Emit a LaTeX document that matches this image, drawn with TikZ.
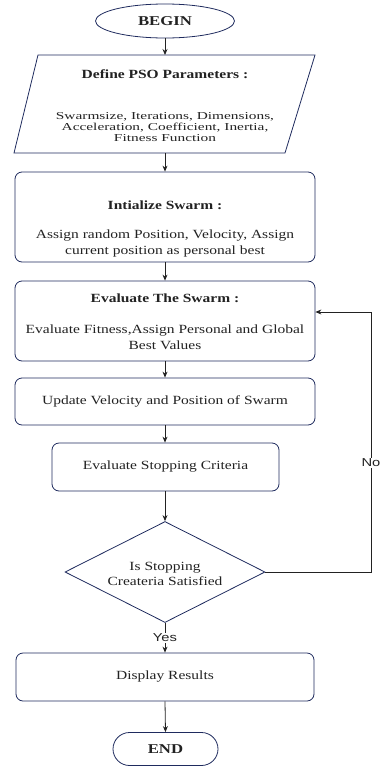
\documentclass[tikz,border=0pt]{standalone}
\usepackage{fontspec}
\setmainfont{Liberation Serif}[FakeStretch=1.24]
\newfontfamily\bodyfont{Liberation Serif}[FakeStretch=1.45]
\newfontfamily\labelfont{Liberation Sans}[FakeStretch=1.28]
\usetikzlibrary{shapes.geometric,arrows.meta}
\definecolor{navy}{HTML}{1F2B5E}
\definecolor{ink}{HTML}{222222}
\begin{document}
\begin{tikzpicture}[x=1pt,y=-1pt,
  box/.style={draw=navy, line width=0.8pt, rounded corners=7pt, inner sep=0pt, text=ink, font=\fontsize{12.5}{16}\selectfont, align=center},
  txt/.style={text=ink, font=\fontsize{12.5}{16.5}\selectfont, align=center, inner sep=0pt},
  ttl/.style={text=ink, font=\fontsize{12.5}{16}\selectfont\bfseries, align=center, inner sep=0pt},
  arr/.style={draw=ink, line width=0.8pt, -{Stealth[length=6pt,width=5pt]}},
  lbl/.style={fill=white, text=ink, font=\labelfont\fontsize{11.5}{14}\selectfont, inner sep=1pt}]
\useasboundingbox (0,0) rectangle (382,766);

% BEGIN
\node[ellipse, draw=navy, line width=0.8pt, minimum width=139pt, minimum height=34pt, inner sep=0pt,
      font=\fontsize{13.5}{16}\selectfont\bfseries, text=ink] (begin) at (165,21) {BEGIN};

% parallelogram
\coordinate (pTL) at (38,55);
\coordinate (pTR) at (315,55);
\coordinate (pBR) at (285,153);
\coordinate (pBL) at (14,153);
\draw[navy, line width=0.8pt] (pTL) -- (pTR) -- (pBR) -- (pBL) -- cycle;
\coordinate (pTop) at (165,55);
\coordinate (pBot) at (165,153);
\node[ttl] (ptitle) at (165,74) {Define PSO Parameters :};
\node[txt, font=\bodyfont\fontsize{10.6}{10.7}\selectfont] (pbody) at (165,127)
  {Swarmsize, Iterations, Dimensions,\\Acceleration, Coefficient, Inertia,\\Fitness Function};

% initialize
\node[box, minimum width=300pt, minimum height=90pt] (init) at (165,217) {};
\node[ttl] (inittitle) at (165,205) {Intialize Swarm :};
\node[txt] (initbody) at (165,243.5) {Assign random Position, Velocity, Assign\\current position as personal best};

% evaluate
\node[box, minimum width=300pt, minimum height=80pt] (eval) at (165,321) {};
\node[ttl] (evaltitle) at (165,298) {Evaluate The Swarm :};
\node[txt, font=\fontsize{12.5}{16}\selectfont] (evalbody) at (165,337) {Evaluate Fitness,Assign Personal and Global\\Best Values};

% update
\node[box, minimum width=300pt, minimum height=47pt] (update) at (165,401.5) {Update Velocity and Position of Swarm};

% stopping
\node[box, minimum width=227pt, minimum height=48pt] (stop) at (165.5,467) {Evaluate Stopping Criteria};

% decision
\node[diamond, draw=navy, line width=0.8pt, minimum width=200pt, minimum height=101pt, inner sep=0pt] (dec) at (165,572) {};
\node[txt, font=\fontsize{12.5}{15}\selectfont] (dectext) at (165,573.5) {Is Stopping\\Createria Satisfied};

% display
\node[box, minimum width=298pt, minimum height=48pt] (disp) at (165,677) {Display Results};

% END
\node[draw=navy, line width=0.8pt, rounded corners=16.5pt, minimum width=105pt, minimum height=33pt, inner sep=0pt,
      font=\fontsize{13.5}{16}\selectfont\bfseries, text=ink] (end) at (165.5,749) {END};

% connectors
\draw[arr] (begin.south) -- (pTop);
\draw[arr] (pBot) -- (init.north);
\draw[arr] (init.south) -- (eval.north);
\draw[arr] (eval.south) -- (update.north);
\draw[arr] (update.south) -- (update.south |- stop.north);
\draw[arr] (dec.north |- stop.south) -- (dec.north);
\draw[arr] (dec.south) -- node[lbl] {Yes} (disp.north);
\draw[arr] (disp.south) -- (end.north);
\coordinate (nC) at (371,572);
\coordinate (evIn) at ([yshift=9pt]eval.east);
\draw[arr] (dec.east) -- (nC) -- node[lbl, pos=0.42] {No} (nC |- evIn) -- (evIn);
\end{tikzpicture}
\end{document}
